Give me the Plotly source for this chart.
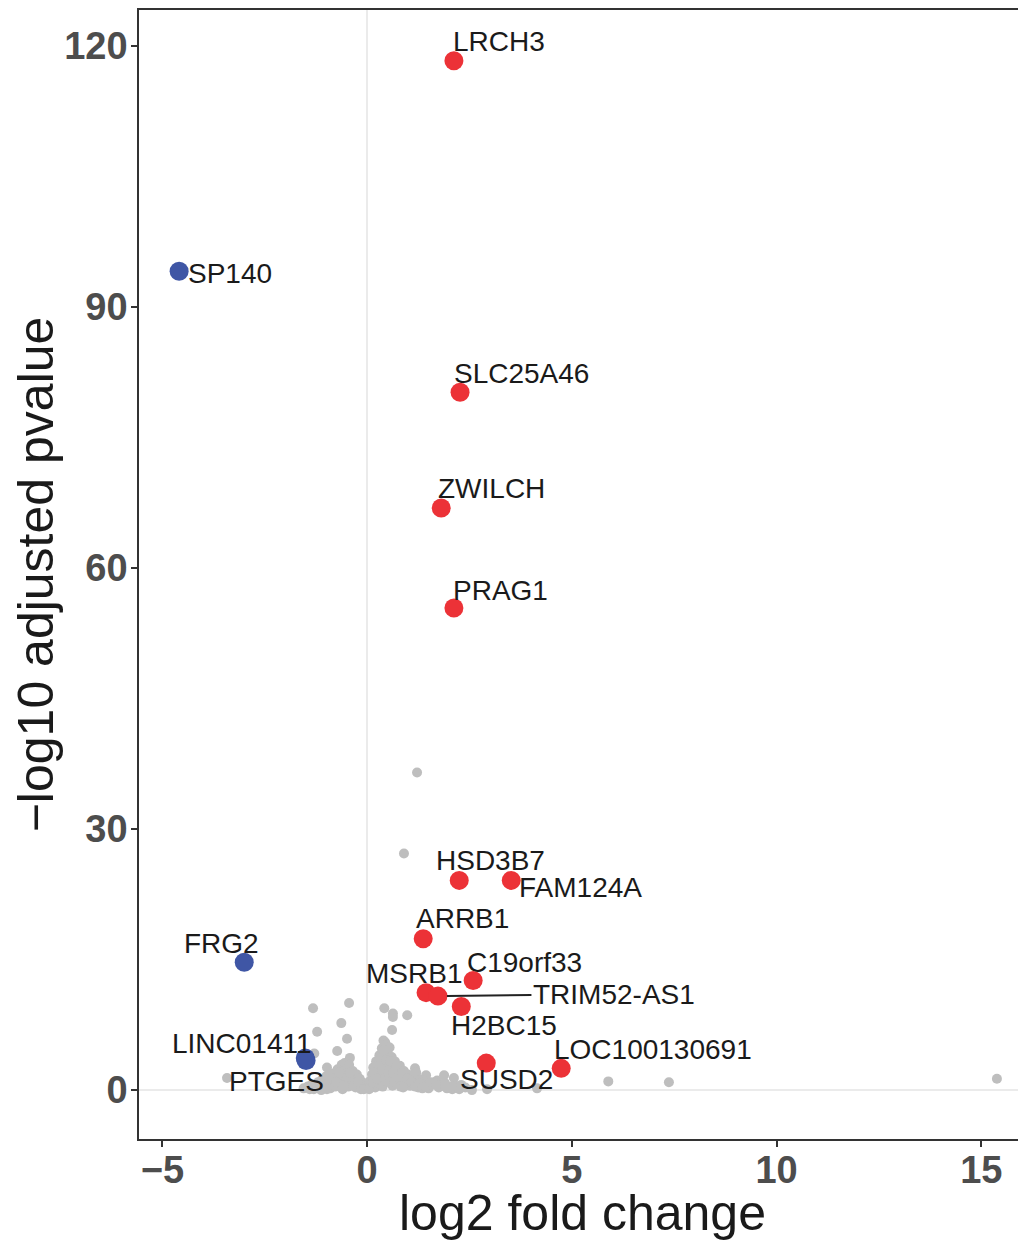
import plotly.graph_objects as go

# ---- data ----
red_genes = ["LRCH3", "SLC25A46", "ZWILCH", "PRAG1", "HSD3B7", "FAM124A", "ARRB1",
             "C19orf33", "MSRB1", "TRIM52-AS1", "H2BC15", "SUSD2", "LOC100130691"]
red_lfc = [2.12, 2.27, 1.81, 2.12, 2.25, 3.52, 1.37, 2.59, 1.44, 1.73, 2.30, 2.91, 4.74]
red_padj = [118.3, 80.2, 66.9, 55.4, 24.1, 24.1, 17.4, 12.6, 11.2, 10.8, 9.6, 3.1, 2.5]

blue_genes = ["SP140", "FRG2", "LINC01411", "PTGES"]
blue_lfc = [-4.59, -3.00, -1.51, -1.49]
blue_padj = [94.1, 14.7, 3.7, 3.4]

gray_lfc = [1.22, 0.90, -1.32, -0.44, -0.63, -1.22, -0.49, -1.29, -0.73, -0.42, -0.98, -3.42,
            0.42, 0.63, 0.63, 0.98, 0.61, 0.44, 0.39, 1.17, 1.44, 1.88, 2.12, 1.71, 2.08,
            2.56, 2.93, 4.15, 5.89, 7.37, 15.38,
            -1.55, -1.45, -1.35, -1.30, -1.20, -1.15, -1.10, -1.05, -1.00, -0.95, -0.90,
            -0.85, -0.80, -0.78, -0.72, -0.70, -0.65, -0.62, -0.60, -0.58, -0.55, -0.52,
            -0.50, -0.46, -0.44, -0.40, -0.38, -0.35, -0.30, -0.28, -0.25, -0.20, -0.18,
            -0.12, -0.10, -0.06, -0.02,
            0.03, 0.06, 0.10, 0.12, 0.15, 0.18, 0.20, 0.22, 0.25, 0.27, 0.30, 0.32, 0.34,
            0.36, 0.38, 0.40, 0.42, 0.44, 0.46, 0.48, 0.50, 0.52, 0.55, 0.58, 0.60, 0.62,
            0.65, 0.68, 0.70, 0.74, 0.78, 0.80, 0.84, 0.88, 0.90, 0.95, 1.00, 1.05, 1.10,
            1.15, 1.20, 1.25, 1.30, 1.38, 1.45, 1.50, 1.58, 1.65, 1.75, 1.85, 1.95, 2.05,
            2.25, 2.40,
            -1.40, -1.25, -1.12, -0.98, -0.88, -0.75, -0.68, -0.57, -0.48, -0.42, -0.33,
            -0.22, -0.15, -0.08,
            0.05, 0.14, 0.17, 0.24, 0.28, 0.33, 0.37, 0.41, 0.45, 0.47, 0.51, 0.54, 0.57,
            0.63, 0.66, 0.72, 0.76, 0.82, 0.86, 0.92, 0.98, 1.08, 1.18, 1.28, 1.35, 1.42,
            1.55, 1.70, 1.90, 2.15, 2.30]
gray_padj = [36.5, 27.2, 9.4, 10.0, 7.7, 6.7, 5.9, 4.2, 4.5, 3.7, 2.6, 1.4,
             9.4, 8.8, 8.4, 8.6, 6.9, 5.5, 4.4, 2.5, 1.7, 1.7, 1.4, 1.1, 0.1,
             0.0, 0.1, 0.2, 1.0, 0.9, 1.3,
             0.2, 0.4, 0.6, 0.1, 0.9, 0.3, 1.2, 0.5, 1.6, 0.8, 0.2,
             1.9, 1.1, 0.4, 2.4, 1.5, 0.7, 2.9, 0.1, 1.9, 3.1, 1.0,
             2.4, 0.4, 2.9, 1.6, 0.8, 2.2, 1.2, 0.3, 1.8, 0.7, 1.3,
             0.9, 0.3, 0.6, 0.2,
             0.3, 1.0, 0.5, 1.8, 2.6, 1.2, 0.3, 3.3, 2.0, 0.8, 4.0, 2.8, 1.5,
             4.8, 0.4, 5.7, 3.6, 2.2, 5.2, 1.0, 4.4, 3.0, 4.9, 1.8, 3.8, 0.5,
             2.6, 3.3, 1.3, 2.1, 0.7, 2.8, 1.6, 0.3, 2.2, 1.1, 1.8, 0.5, 1.4,
             0.9, 2.0, 0.3, 1.2, 0.7, 1.0, 0.2, 0.6, 0.9, 0.3, 0.5, 0.2, 0.4,
             0.1, 0.3,
             0.1, 0.5, 0.0, 0.1, 1.4, 0.9, 2.0, 0.5, 1.5, 2.0, 0.5,
             1.0, 0.1, 0.1,
             0.1, 0.9, 2.0, 1.3, 3.0, 3.6, 2.3, 4.6, 1.5, 3.4, 2.0, 0.9, 3.3,
             2.0, 1.0, 2.8, 1.5, 0.4, 2.0, 0.8, 1.3, 0.9, 0.4, 0.8, 0.2, 0.4,
             0.9, 0.6, 0.8, 0.5, 0.6]

x_ticks = [-5, 0, 5, 10, 15]
y_ticks = [0, 30, 60, 90, 120]

# ---- label placement (pixel offsets from point; yshift up positive) ----
label_offsets = {
    "LRCH3": (45, 19), "SP140": (51, -2), "SLC25A46": (61, 19), "ZWILCH": (50, 19),
    "PRAG1": (47, 18), "HSD3B7": (31, 20), "FAM124A": (69, -7), "ARRB1": (39, 20),
    "FRG2": (-23, 19), "C19orf33": (51, 18), "MSRB1": (-12, 19), "H2BC15": (43, -19),
    "LOC100130691": (92, 19), "SUSD2": (20, -16), "LINC01411": (-63, 14), "PTGES": (-30, -21),
}

RED = "#EC3237"
BLUE = "#3F56A5"
GRAY = "#BEBEBE"
FONT = "Liberation Sans, Arial, sans-serif"

fig = go.Figure()
fig.add_trace(go.Scatter(x=gray_lfc, y=gray_padj, mode="markers",
                         marker=dict(color=GRAY, size=10, line=dict(width=0)),
                         hoverinfo="skip", showlegend=False))
fig.add_trace(go.Scatter(x=red_lfc, y=red_padj, mode="markers", text=red_genes,
                         marker=dict(color=RED, size=19, line=dict(width=0)),
                         showlegend=False))
fig.add_trace(go.Scatter(x=blue_lfc, y=blue_padj, mode="markers", text=blue_genes,
                         marker=dict(color=BLUE, size=19, line=dict(width=0)),
                         showlegend=False))

annotations = []
for genes, xs, ys in [(red_genes, red_lfc, red_padj), (blue_genes, blue_lfc, blue_padj)]:
    for g, x, y in zip(genes, xs, ys):
        if g == "TRIM52-AS1":
            annotations.append(dict(x=x, y=y, text=g, showarrow=True, arrowhead=0,
                                    arrowwidth=2, arrowcolor="#222222", ax=176, ay=-2,
                                    standoff=9, font=dict(family=FONT, size=28, color="#1a1a1a")))
        else:
            dx, dy = label_offsets[g]
            annotations.append(dict(x=x, y=y, text=g, showarrow=False, xshift=dx, yshift=dy,
                                    xanchor="center", yanchor="middle",
                                    font=dict(family=FONT, size=28, color="#1a1a1a")))

fig.update_layout(
    width=1018, height=1233,
    margin=dict(l=131, r=0, t=0, b=102),
    paper_bgcolor="white", plot_bgcolor="white",
    annotations=annotations,
    xaxis=dict(range=[-5.57, 16.09], tickvals=x_ticks, showgrid=False,
               zeroline=True, zerolinecolor="#EBEBEB", zerolinewidth=2,
               showline=True, linecolor="#333333", linewidth=1.5, mirror=True,
               ticks="outside", ticklen=6, tickcolor="#333333", tickwidth=1.5,
               ticklabelstandoff=-9,
               tickfont=dict(family=FONT, size=38, color="#4D4D4D", weight="bold"),
               title=dict(text="log2 fold change", standoff=9,
                          font=dict(family=FONT, size=50, color="#1a1a1a"))),
    yaxis=dict(range=[-5.62, 124.13], tickvals=y_ticks, showgrid=False,
               zeroline=True, zerolinecolor="#EBEBEB", zerolinewidth=2,
               showline=True, linecolor="#333333", linewidth=1.5, mirror=False,
               ticks="outside", ticklen=6, tickcolor="#333333", tickwidth=1.5,
               ticklabelstandoff=-4,
               tickfont=dict(family=FONT, size=38, color="#4D4D4D", weight="bold"),
               title=dict(text="−log10 adjusted pvalue", standoff=12,
                          font=dict(family=FONT, size=50, color="#1a1a1a"))),
)

fig.write_html("out.html")
